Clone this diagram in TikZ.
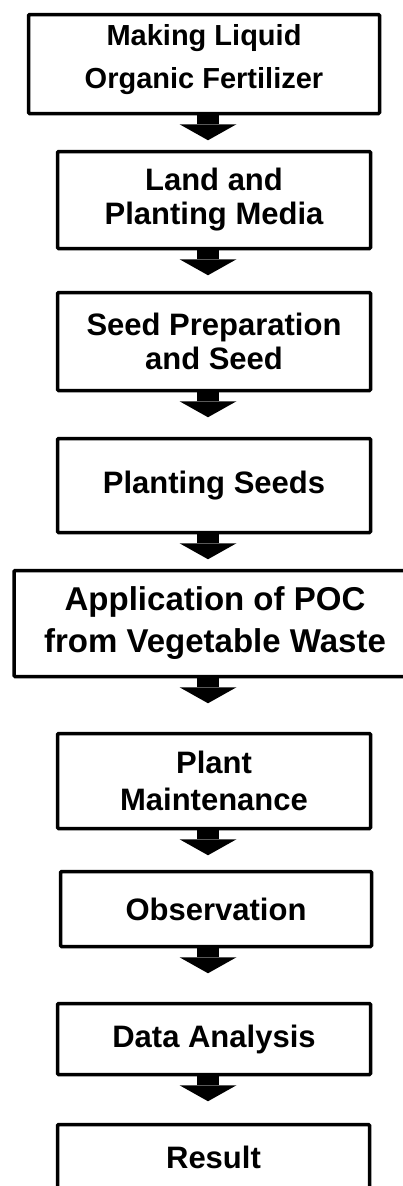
\documentclass[tikz,border=0pt]{standalone}
\usepackage{fontspec}
\setmainfont{Liberation Sans}
\usetikzlibrary{arrows.meta,calc}

\begin{document}
\begin{tikzpicture}[x=1pt, y=1pt,
      p/.style={draw, line width=3.5pt, rounded corners=1pt, align=center, inner sep=0pt},
      fa/.style={font=\fontsize{29}{43}\selectfont\bfseries},
      fb/.style={font=\fontsize{31}{34}\selectfont\bfseries},
      fc/.style={font=\fontsize{33}{42}\selectfont\bfseries},
      fd/.style={font=\fontsize{31}{37}\selectfont\bfseries},
      blk/.style={line width=22pt, -{Triangle[width=57pt, length=16pt, line width=0pt]}}]
  \useasboundingbox (0,0) rectangle (402,-1186);
  \coordinate (axis) at (208,0);
  \node[p, fa, minimum width=351pt, minimum height=99pt] (mk) at (204,-64)
    {Making Liquid\\Organic Fertilizer\rule[-16pt]{0pt}{16pt}};
  \node[p, fb, minimum width=313pt, minimum height=97pt] (land) at (214,-200) {Land and\\Planting Media};
  \node[p, fb, minimum width=313pt, minimum height=98pt] (seed) at (214,-341.5) {Seed Preparation\\and Seed};
  \node[p, fb, minimum width=313pt, minimum height=94pt] (sow) at (214,-485.5) {Planting Seeds};
  \node[p, fc, minimum width=402pt, minimum height=106pt] (poc) at (215,-623.5) {Application of POC\\from Vegetable Waste};
  \node[p, fd, minimum width=313pt, minimum height=95pt] (care) at (214,-781) {Plant\\Maintenance};
  \node[p, fb, minimum width=311pt, minimum height=75pt] (obs) at (216,-909) {Observation};
  \node[p, fb, minimum width=313pt, minimum height=71pt] (data) at (214,-1039) {Data Analysis};
  \node[p, fb, minimum width=312pt, minimum height=65pt] (res) at (213.5,-1157) {Result};
  % block arrows between the steps
  \foreach \u in {mk,land,seed,sow,poc,care,obs,data} {
    \coordinate (\u-tip) at ($(\u.south -| axis)+(0,-25)$);
    \draw[blk] (\u.south -| axis) -- (\u-tip);
  }
\end{tikzpicture}
\end{document}
